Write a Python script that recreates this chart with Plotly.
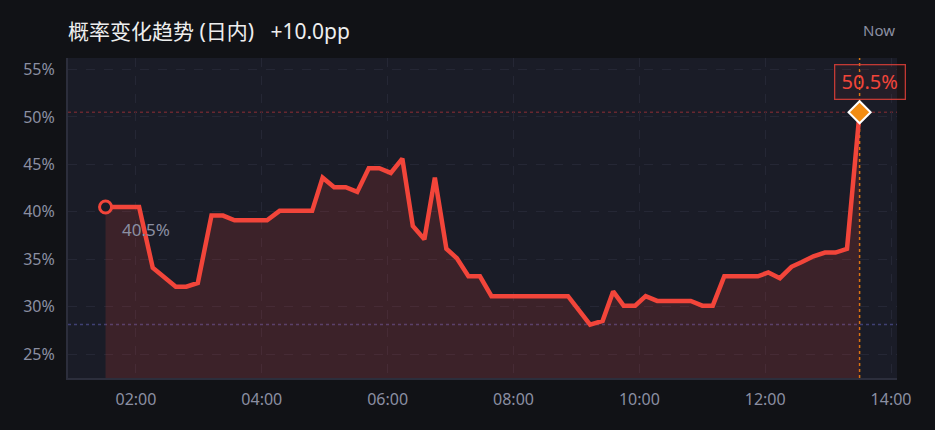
import plotly.graph_objects as go

# intraday probability samples (time, %)
times = ["01:31", "02:03", "02:16", "02:38", "02:48", "02:59", "03:12", "03:23",
         "03:34", "04:05", "04:17", "04:48", "04:58", "05:09", "05:20", "05:31",
         "05:42", "05:52", "06:03", "06:14", "06:24", "06:35", "06:45", "06:56",
         "07:06", "07:17", "07:28", "07:39", "08:52", "09:13", "09:25", "09:35",
         "09:45", "09:56", "10:06", "10:17", "10:49", "11:00", "11:10", "11:21",
         "11:53", "12:03", "12:14", "12:25", "12:35", "12:46", "12:57", "13:07",
         "13:18", "13:30"]
probs = [40.5, 40.5, 34.1, 32.1, 32.1, 32.5, 39.6, 39.6,
         39.1, 39.1, 40.1, 40.1, 43.6, 42.6, 42.6, 42.1,
         44.6, 44.6, 44.1, 45.6, 38.5, 37.1, 43.6, 36.1,
         35.1, 33.2, 33.2, 31.1, 31.1, 28.1, 28.5, 31.6,
         30.1, 30.1, 31.1, 30.6, 30.6, 30.1, 30.1, 33.2,
         33.2, 33.6, 33.0, 34.2, 34.7, 35.3, 35.7, 35.7,
         36.1, 50.5]
day = "2024-01-01 "
x = [day + t for t in times]

red = "#f2453a"
grey = "#8b8fa2"
font = "Noto Sans, Noto Sans CJK SC, sans-serif"

fig = go.Figure()
fig.add_trace(go.Scatter(
    x=x, y=probs, mode="lines",
    line=dict(color=red, width=4.5),
    fill="tozeroy", fillcolor="rgba(242,69,58,0.16)",
    hoverinfo="skip", showlegend=False,
))

fig.add_hline(y=max(probs), layer="below",
              line=dict(color="rgba(170,50,55,0.55)", width=1.5, dash="dot"))
fig.add_hline(y=min(probs), layer="below",
              line=dict(color="rgba(80,80,150,0.7)", width=1.5, dash="dot"))
fig.add_vline(x=x[-1], layer="below", line=dict(color="#d9780f", width=1.5, dash="dot"))

# start point
fig.add_trace(go.Scatter(
    x=[x[0]], y=[probs[0]], mode="markers",
    marker=dict(size=12, color="#1a1c27", line=dict(color=red, width=3)),
    hoverinfo="skip", showlegend=False,
))
# current point
fig.add_trace(go.Scatter(
    x=[x[-1]], y=[probs[-1]], mode="markers",
    marker=dict(size=17, symbol="diamond", color="#f28c12", line=dict(color="white", width=2)),
    hoverinfo="skip", showlegend=False,
))

fig.add_annotation(x=x[0], y=probs[0], text="40.5%", showarrow=False,
                   xanchor="left", yanchor="middle", xshift=14, yshift=-22,
                   font=dict(color=grey, size=17, family=font))
fig.add_annotation(x=x[-1], y=probs[-1], text="\u200950.5%\u2009", showarrow=False,
                   xanchor="center", yanchor="middle", xshift=10, yshift=30,
                   bordercolor="rgba(225,64,56,0.85)", borderwidth=1.3, borderpad=3,
                   bgcolor="rgba(242,69,58,0.05)",
                   font=dict(color=red, size=20, family=font))
fig.add_annotation(xref="paper", yref="paper", x=1, y=1, text="Now", showarrow=False,
                   xanchor="right", yanchor="middle", yshift=28,
                   font=dict(color=grey, size=15, family=font))

fig.update_layout(
    width=935, height=430,
    paper_bgcolor="#111216", plot_bgcolor="#1a1c27",
    margin=dict(l=68, r=38, t=58, b=52),
    title=dict(text="概率变化趋势 (日内)\u00a0\u00a0\u00a0+10.0pp", x=68 / 935, xanchor="left",
               y=1 - 32 / 430, yanchor="middle",
               font=dict(color="#eeeeee", size=21, family=font)),
    font=dict(family=font, color=grey, size=16),
    showlegend=False,
)
fig.update_xaxes(
    type="date", range=[day + "00:55:12", day + "14:05:40"],
    tickformat="%H:%M", dtick=7200000, tick0=day + "00:00",
    showgrid=True, gridcolor="#252735", griddash="dash", gridwidth=1,
    showline=True, linecolor="#2c2e3c", linewidth=2,
    ticks="", ticklabelstandoff=6, zeroline=False,
)
fig.update_yaxes(
    range=[22.47, 56.22], tickvals=[25, 30, 35, 40, 45, 50, 55],
    ticktext=["25%", "30%", "35%", "40%", "45%", "50%", "55%"],
    showgrid=True, gridcolor="#252735", griddash="dash", gridwidth=1,
    showline=True, linecolor="#2c2e3c", linewidth=2,
    ticks="", ticklabelstandoff=8, zeroline=False,
)

fig.write_html("out.html", config={"displayModeBar": False},
               post_script="document.body.style.margin='0';"
                           "document.body.style.background='#111216';")
